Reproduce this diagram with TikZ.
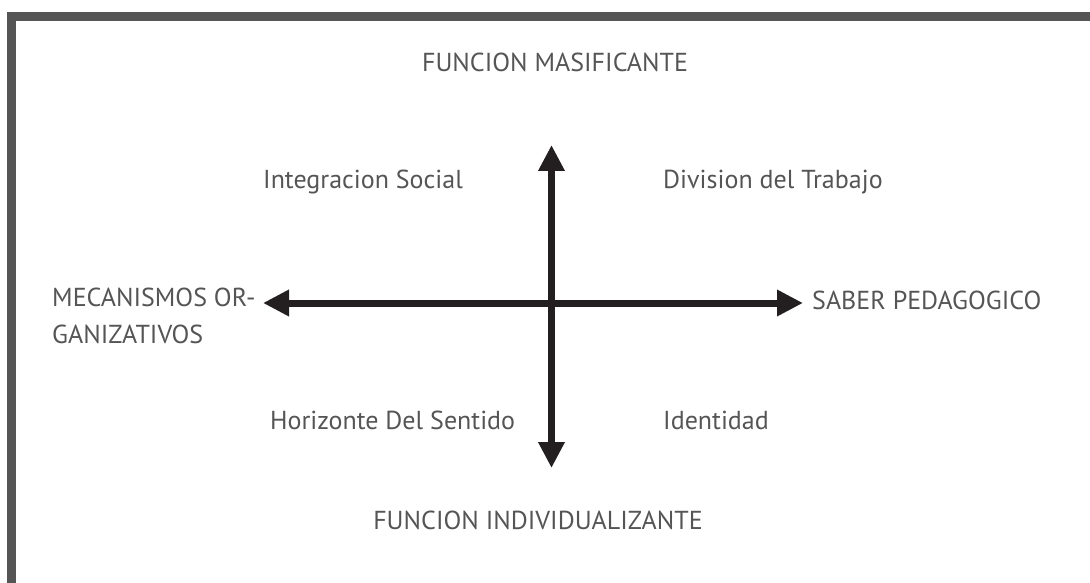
\documentclass[tikz,border=0pt]{standalone}
\usepackage{fontspec}
\setmainfont{PT Sans}
\usetikzlibrary{arrows.meta}
\definecolor{framegray}{HTML}{555555}
\definecolor{txtgray}{HTML}{555555}
\definecolor{arrowblack}{HTML}{231F20}
\begin{document}
\begin{tikzpicture}[x=1pt,y=-1pt,
  lbl/.style={inner sep=0pt,text=txtgray,font=\fontsize{26}{37}\selectfont},
  axis/.style={draw=arrowblack,line width=7pt,{Triangle[length=26pt,width=25pt]}-{Triangle[length=26pt,width=25pt]}}]
\useasboundingbox (0,0) rectangle (1090,583);
\draw[framegray,line width=9pt] (11.5,590) -- (11.5,16.5) -- (1095,16.5);
\coordinate (L) at (263,303);
\coordinate (R) at (803,303);
\coordinate (T) at (551.5,145);
\coordinate (B) at (551.5,468);
\draw[axis] (L) -- (R);
\draw[axis] (T) -- (B);
\node[lbl,anchor=base] (fm) at (555,72) {FUNCION MASIFICANTE};
\node[lbl,anchor=base] (fi) at (538,529) {FUNCION INDIVIDUALIZANTE};
\node[lbl,anchor=base west] (is) at (263,189) {Integracion Social};
\node[lbl,anchor=base west] (dt) at (663,189) {Division del Trabajo};
\node[lbl,anchor=base west] (hs) at (270,429) {Horizonte Del Sentido};
\node[lbl,anchor=base west] (id) at (663,429) {Identidad};
\node[lbl,anchor=base west] (sp) at (812,309) {SABER PEDAGOGICO};
\node[lbl,anchor=base west] (mo) at (52,306) {MECANISMOS OR-};
\node[lbl,anchor=base west] (mo2) at (52,343) {GANIZATIVOS};
\end{tikzpicture}
\end{document}
